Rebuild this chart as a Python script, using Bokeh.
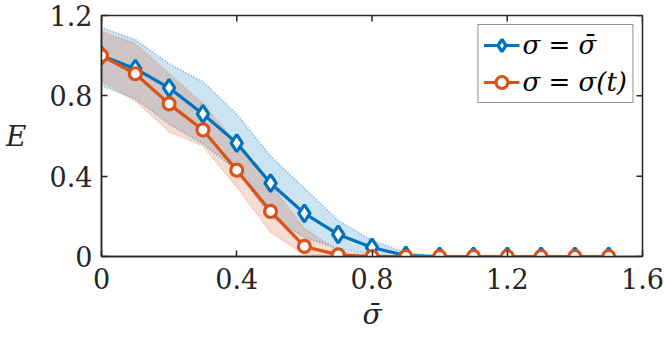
import math
from bokeh.plotting import figure
from bokeh.models import Range1d, FixedTicker, Legend
from bokeh.embed import file_html
from bokeh.resources import INLINE

# ---- data ----
sigma_bar = [0.0, 0.1, 0.2, 0.3, 0.4, 0.5, 0.6, 0.7, 0.8, 0.9, 1.0, 1.1, 1.2, 1.3, 1.4, 1.5]
E_const_mean  = [1.0, 0.935, 0.84, 0.71, 0.565, 0.365, 0.215, 0.11, 0.045, 0.005, 0, 0, 0, 0, 0, 0]
E_const_upper = [1.14, 1.08, 0.96, 0.87, 0.71, 0.50, 0.34, 0.18, 0.08, 0.02, 0, 0, 0, 0, 0, 0]
E_const_lower = [0.85, 0.785, 0.66, 0.56, 0.43, 0.20, 0.095, 0.04, 0.01, 0.0, 0, 0, 0, 0, 0, 0]
E_time_mean   = [1.0, 0.91, 0.76, 0.63, 0.43, 0.225, 0.05, 0.008, 0.0, 0.0, 0, 0, 0, 0, 0, 0]
E_time_upper  = [1.12, 1.06, 0.91, 0.76, 0.56, 0.36, 0.14, 0.03, 0.005, 0.0, 0, 0, 0, 0, 0, 0]
E_time_lower  = [0.87, 0.775, 0.62, 0.55, 0.345, 0.12, 0.01, 0.0, 0.0, 0.0, 0, 0, 0, 0, 0, 0]

x_ticks = [0, 0.4, 0.8, 1.2, 1.6]
x_tick_labels = ["0", "0.4", "0.8", "1.2", "1.6"]
y_ticks = [0, 0.4, 0.8, 1.2]
y_tick_labels = ["0", "0.4", "0.8", "1.2"]

label_const = "σ = σ̄"
label_time = "σ = σ(t)"
x_label = "σ̄"
y_label = "E"

BLUE = "#0072BD"
ORANGE = "#D95319"
AXC = "#262626"
FONT = "DejaVu Serif"

X0, X1 = 0, 1.6
Y0, Y1 = 0, 1.2

p = figure(width=664, height=343, output_backend="svg", toolbar_location=None,
           x_range=Range1d(X0, X1), y_range=Range1d(Y0, Y1),
           min_border_left=101, min_border_right=22, min_border_top=15, min_border_bottom=87)
p.grid.visible = False
p.outline_line_color = AXC
p.outline_line_width = 1.5
p.background_fill_color = "white"

# bands
p.varea(x=sigma_bar, y1=E_const_lower, y2=E_const_upper, fill_color=BLUE, fill_alpha=0.2)
p.line(sigma_bar, E_const_upper, line_color=BLUE, line_alpha=0.45, line_width=2, line_dash="1 2")
p.line(sigma_bar, E_const_lower, line_color=BLUE, line_alpha=0.45, line_width=2, line_dash="1 2")
p.varea(x=sigma_bar, y1=E_time_lower, y2=E_time_upper, fill_color=ORANGE, fill_alpha=0.2)
p.line(sigma_bar, E_time_upper, line_color=ORANGE, line_alpha=0.35, line_width=2, line_dash="1 2")
p.line(sigma_bar, E_time_lower, line_color=ORANGE, line_alpha=0.35, line_width=2, line_dash="1 2")

# mean lines
l1 = p.line(sigma_bar, E_const_mean, line_color=BLUE, line_width=3.2)
s1 = p.scatter(sigma_bar, E_const_mean, marker="diamond", size=17, line_color=BLUE,
               line_width=3.2, fill_color="white")
l2 = p.line(sigma_bar, E_time_mean, line_color=ORANGE, line_width=3.2)
s2 = p.scatter(sigma_bar, E_time_mean, marker="circle", size=12, line_color=ORANGE,
               line_width=3.2, fill_color="white")

# mirrored inward ticks on top and right (half of each dash is clipped by the frame)
p.scatter(x=x_ticks, y=[Y1] * len(x_ticks), marker="dash", size=12, angle=math.pi / 2,
          line_color=AXC, line_width=1.5)
p.scatter(x=[X1] * len(y_ticks), y=y_ticks, marker="dash", size=12,
          line_color=AXC, line_width=1.5)

legend = Legend(items=[(label_const, [l1, s1]), (label_time, [l2, s2])],
                location="top_right")
legend.label_text_font = FONT
legend.label_text_font_style = "italic"
legend.label_text_font_size = "26px"
legend.label_text_color = "black"
legend.label_height = 30
legend.glyph_height = 30
legend.glyph_width = 36
legend.label_standoff = 3
legend.spacing = 7
legend.padding = 5
legend.margin = 9
legend.border_line_color = AXC
legend.border_line_width = 1.5
legend.background_fill_alpha = 1.0
p.add_layout(legend)

for ax in (p.xaxis[0], p.yaxis[0]):
    ax.major_tick_in = 6
    ax.major_tick_out = 0
    ax.minor_tick_line_color = None
    ax.axis_line_color = AXC
    ax.axis_line_width = 1.5
    ax.major_tick_line_color = AXC
    ax.major_tick_line_width = 1.5
    ax.major_label_text_font = FONT
    ax.major_label_text_font_size = "27px"
    ax.major_label_text_color = AXC

p.xaxis.ticker = FixedTicker(ticks=x_ticks)
p.xaxis.major_label_overrides = {t: s for t, s in zip(x_ticks, x_tick_labels)}
p.xaxis.major_label_standoff = 11
p.xaxis.axis_label = x_label
p.xaxis.axis_label_text_font = FONT
p.xaxis.axis_label_text_font_style = "italic"
p.xaxis.axis_label_text_font_size = "28px"
p.xaxis.axis_label_text_color = AXC
p.xaxis.axis_label_standoff = 6

p.yaxis.ticker = FixedTicker(ticks=y_ticks)
p.yaxis.major_label_overrides = {t: s for t, s in zip(y_ticks, y_tick_labels)}
p.yaxis.major_label_standoff = 9
p.yaxis.axis_label = y_label
p.yaxis.axis_label_orientation = "horizontal"
p.yaxis.axis_label_text_font = FONT
p.yaxis.axis_label_text_font_style = "italic"
p.yaxis.axis_label_text_font_size = "28px"
p.yaxis.axis_label_text_color = AXC
p.yaxis.axis_label_standoff = 20

open("out.html", "w").write(file_html(p, INLINE))
